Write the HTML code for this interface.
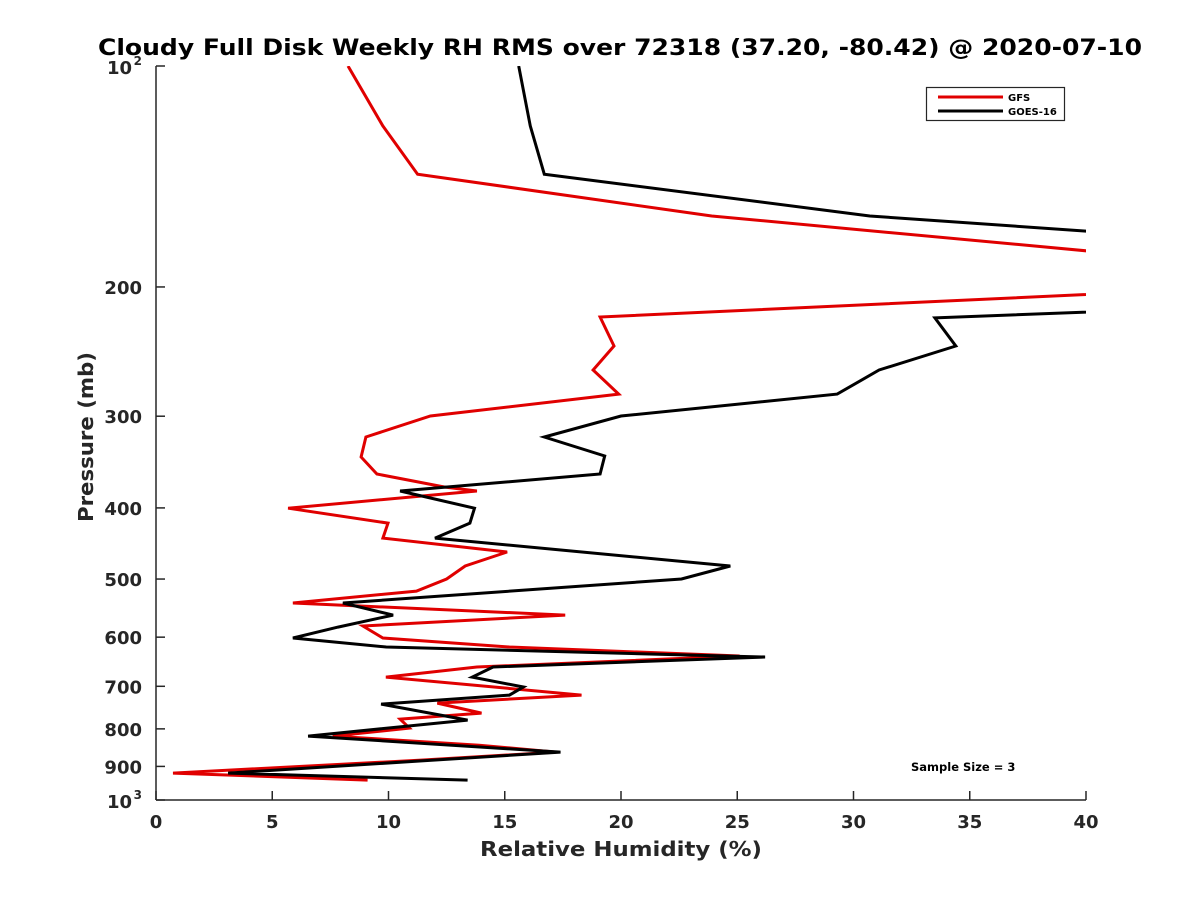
<!DOCTYPE html>
<html><head><meta charset="utf-8"><style>
html,body{margin:0;padding:0;background:#fff;}
svg{display:block;font-family:"DejaVu Sans","Liberation Sans",sans-serif;font-weight:bold;}
</style></head><body>
<svg id="chart" width="1200" height="900" viewBox="0 0 1200 900">
<defs><clipPath id="plotclip"><rect x="156" y="66" width="930" height="734"/></clipPath></defs>
<text x="620" y="55" text-anchor="middle" font-size="22" fill="#000" textLength="1044" lengthAdjust="spacingAndGlyphs">Cloudy Full Disk Weekly RH RMS over 72318 (37.20, -80.42) @ 2020-07-10</text>
<g id="axes"></g>
<g id="series" clip-path="url(#plotclip)"></g>
<text x="621" y="856" text-anchor="middle" font-size="20" fill="#262626" textLength="282" lengthAdjust="spacingAndGlyphs">Relative Humidity (%)</text>
<text transform="translate(93,437) rotate(-90)" text-anchor="middle" font-size="20" fill="#262626" textLength="170" lengthAdjust="spacingAndGlyphs">Pressure (mb)</text>
<g>
<rect x="926.5" y="87.5" width="138" height="33" fill="#fff" stroke="#262626" stroke-width="1.2"/>
<line x1="938" y1="97" x2="1003" y2="97" stroke="#e00000" stroke-width="3"/>
<text x="1008" y="101" font-size="10" fill="#000">GFS</text>
<line x1="938" y1="111" x2="1003" y2="111" stroke="#000" stroke-width="3"/>
<text x="1008" y="115" font-size="10" fill="#000">GOES-16</text>
</g>
<text x="911" y="771" font-size="11.5" fill="#000">Sample Size = 3</text>
</svg>
<script>
const xTicks=[0,5,10,15,20,25,30,35,40];
const yTicks=[100,200,300,400,500,600,700,800,900,1000];
const yTickLabels=["10^2","200","300","400","500","600","700","800","900","10^3"];
const gfsPressure=[100,120.7,140.4,160.1,195.7,219.8,240.7,259.5,279.9,299.8,320.2,341.0,359.6,374.6,379.3,400.3,419.5,439.7,459.4,480.0,500.0,519.2,539.1,559.8,579.4,601.6,618.8,636.5,658.9,680.0,719.5,737.8,761.4,775.8,798.1,818.4,842.0,860.6,882.4,919.1,939.6];
const gfsRH=[8.26,9.76,11.25,23.9,53.5,19.1,19.7,18.8,19.9,11.8,9.03,8.82,9.5,12.4,13.8,5.68,9.98,9.76,15.1,13.3,12.5,11.2,5.89,17.6,8.9,9.76,15.2,25.1,13.8,9.89,18.3,12.1,14.0,10.5,10.9,7.6,13.9,17.2,11.4,0.73,9.1];
const goesPressure=[100,120.7,140.4,160.1,179.8,208.4,220.4,240.7,259.5,279.9,299.8,320.2,339.9,359.6,379.3,400.3,419.5,439.7,480.0,500.0,539.1,559.8,581.3,601.6,618.8,638.6,658.9,680.0,701.5,719.5,740.2,778.2,818.4,860.6,919.1,939.6];
const goesRH=[15.6,16.1,16.7,30.7,53.5,53.5,33.5,34.4,31.1,29.3,20.0,16.7,19.3,19.1,10.5,13.7,13.5,12.0,24.7,22.6,8.04,10.2,7.83,5.89,9.9,26.2,14.5,13.6,15.8,15.2,9.68,13.4,6.54,17.4,3.1,13.4];

const X0=156,X1=1086,Y0=66,Y1=800;
const xs=v=>X0+(v-0)/40*(X1-X0);
const ys=p=>Y0+(Math.log10(p)-2)*(Y1-Y0);
const NS="http://www.w3.org/2000/svg";
function mk(tag,attrs,parent){const e=document.createElementNS(NS,tag);for(const k in attrs)e.setAttribute(k,attrs[k]);parent.appendChild(e);return e;}
const axes=document.getElementById('axes');
const xa=mk('line',{x1:X0,y1:Y1,x2:X1,y2:Y1,stroke:'#262626','stroke-width':1.5},axes);


const ya=mk('line',{x1:X0,y1:Y0,x2:X0,y2:Y1,stroke:'#262626','stroke-width':1.5},axes);


xTicks.forEach(t=>{
  const x=xs(t);
  mk('line',{x1:x,y1:Y1,x2:x,y2:Y1-9,stroke:'#262626','stroke-width':1.5},axes);
  const tx=mk('text',{x:x,y:Y1+28,'text-anchor':'middle','font-size':18,fill:'#262626'},axes);
  tx.textContent=t;
  
  
});
yTicks.forEach((t,i)=>{
  const y=ys(t);
  mk('line',{x1:X0,y1:y,x2:X0+9,y2:y,stroke:'#262626','stroke-width':1.5},axes);
  const lab=yTickLabels[i];
  if(lab.indexOf('^')>=0){
    const parts=lab.split('^');
    const tx=mk('text',{x:X0-24,y:y+8,'text-anchor':'end','font-size':18,fill:'#262626'},axes);
    tx.textContent=parts[0];
    
    
    const sp=mk('text',{x:X0-14,y:y-1,'text-anchor':'end','font-size':12,fill:'#262626'},axes);
    sp.textContent=parts[1];
    
    
  } else {
    const tx=mk('text',{x:X0-14,y:y+7,'text-anchor':'end','font-size':18,fill:'#262626'},axes);
    tx.textContent=lab;
    
    
  }
});
const series=document.getElementById('series');
function drawLine(P,V,color,name){
  const pts=P.map((p,i)=>xs(V[i]).toFixed(1)+','+ys(p).toFixed(1)).join(' ');
  const pl=mk('polyline',{points:pts,fill:'none',stroke:color,'stroke-width':3,'stroke-linejoin':'miter'},series);
  
  
}
drawLine(gfsPressure,gfsRH,'#e00000','gfs-line');
drawLine(goesPressure,goesRH,'#000000','goes16-line');
</script>
</body></html>
